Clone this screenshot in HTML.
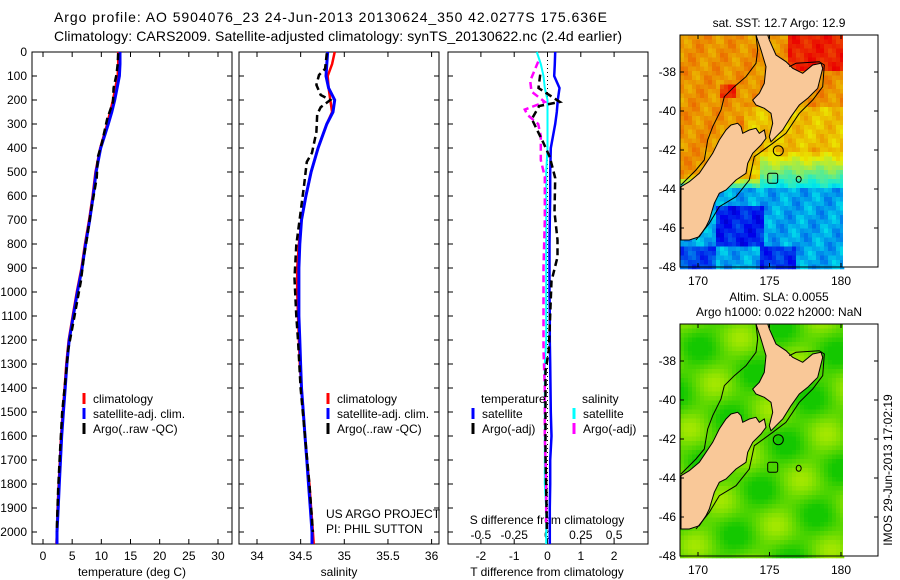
<!DOCTYPE html>
<html><head><meta charset="utf-8"><style>
body{margin:0;background:#fff;}
svg{display:block;font-family:"Liberation Sans",sans-serif;}
</style></head><body>
<svg id="fig" width="900" height="580" viewBox="0 0 900 580">
<text x="54" y="22" font-size="14" textLength="553">Argo profile: AO 5904076_23 24-Jun-2013 20130624_350 42.0277S 175.636E</text>
<text x="54" y="41" font-size="14" textLength="568">Climatology: CARS2009. Satellite-adjusted climatology: synTS_20130622.nc (2.4d earlier)</text>
<g id="panels"></g>
<g id="maps"></g>
<text transform="translate(892,470) rotate(-90)" font-size="12" text-anchor="middle">IMOS 29-Jun-2013 17:02:19</text>
</svg>
<script>
// ---------- data ----------
const depths      = [0,50,100,150,200,250,300,400,500,600,700,800,900,1000,1100,1200,1300,1400,1500,1600,1700,1800,1900,2000,2050];
const tempClim    = [12.9,12.9,12.8,12.4,12.0,11.5,11.0,9.8,9.0,8.5,7.9,7.2,6.6,5.8,5.1,4.4,4.0,3.7,3.4,3.1,2.9,2.7,2.5,2.4,2.3];
const tempSat     = [13.2,13.2,13.1,12.7,12.3,11.8,11.2,9.9,9.1,8.6,8.0,7.3,6.7,5.9,5.2,4.5,4.1,3.8,3.5,3.2,3.0,2.8,2.6,2.4,2.4];
const argoDepths  = [5,50,94,150,208,279,379,438,525,667,783,854,954,1100,1242,1329,1500,1675,1817,1962,2000];
const tempArgo    = [12.9,12.8,12.6,12.1,12.0,11.0,10.1,9.4,9.2,8.2,7.5,7.0,6.5,5.4,4.3,4.0,3.3,2.9,2.6,2.4,2.4];
const salClim     = [34.89,34.86,34.81,34.82,34.84,34.86,34.80,34.70,34.62,34.56,34.51,34.48,34.46,34.46,34.47,34.48,34.49,34.51,34.53,34.55,34.57,34.60,34.62,34.64,34.65];
const salSat      = [34.81,34.80,34.79,34.82,34.89,34.87,34.80,34.70,34.62,34.56,34.51,34.49,34.48,34.48,34.48,34.49,34.50,34.51,34.53,34.55,34.57,34.59,34.61,34.63,34.63];
const salArgoDep  = [5,70,96,137,179,200,230,260,333,420,458,554,667,804,942,1100,1200,1400,1600,1800,2000];
const salArgo     = [34.80,34.78,34.71,34.68,34.73,34.84,34.73,34.69,34.68,34.63,34.57,34.54,34.50,34.45,34.43,34.45,34.47,34.50,34.55,34.60,34.64];
const dTsat       = [0.23,0.22,0.20,0.36,0.31,0.28,0.23,0.10,0.08,0.08,0.07,0.06,0.06,0.06,0.07,0.07,0.08,0.09,0.10,0.12,0.08,0.08,0.07,0.07,0.07];
const dTargoDep   = [94,150,208,225,279,379,438,525,667,783,854,954,1242,1329,1500,1675,1817,1962,2000];
const dTargo      = [-0.22,-0.27,0.37,-0.25,-0.47,-0.12,0.07,0.23,0.21,0.30,0.30,0.12,0.04,-0.06,-0.06,-0.06,-0.04,-0.02,-0.02];
const dSsat       = [-0.08,-0.05,-0.03,-0.02,0.0,0.0,0.0,0.0,-0.01,-0.01,-0.01,-0.01,-0.01,-0.01,-0.01,-0.01,-0.02,-0.02,-0.02,-0.02,-0.02,-0.02,-0.01,-0.01,-0.01];
const dSargoDep   = [40,80,120,165,208,240,262,300,350,400,450,520,700,900,1242,1400,1600,1800,1962];
const dSargo      = [-0.07,-0.10,-0.13,-0.12,-0.02,-0.17,-0.15,-0.07,-0.05,-0.05,-0.05,-0.02,-0.02,-0.03,-0.03,-0.02,-0.02,-0.01,-0.01];
const depthTicks  = [0,100,200,300,400,500,600,700,800,900,1000,1100,1200,1300,1400,1500,1600,1700,1800,1900,2000];
const tempTicks   = [0,5,10,15,20,25,30];
const salTicks    = [34,34.5,35,35.5,36];
const salTickLbl  = ["34","34.5","35","35.5","36"];
const dTTicks     = [-2,-1,0,1,2];
const dSTickLbl   = ["-0.5","-0.25","0","0.25","0.5"];
const latTicks    = [-38,-40,-42,-44,-46,-48];
const lonTicks    = [170,175,180];

const NS='http://www.w3.org/2000/svg';
function mk(tag,attrs,parent){const e=document.createElementNS(NS,tag);for(const k in attrs)e.setAttribute(k,attrs[k]);parent.appendChild(e);return e;}
const P=document.getElementById('panels');
const top0=52, bot=544;
const yD=d=>top0+d*0.24;
const panels=[
 {x0:32,x1:232,name:'temperature-panel',xs:v=>43+v*5.833},
 {x0:239,x1:439,name:'salinity-panel',xs:v=>257+(v-34)*87.3},
 {x0:448,x1:648,name:'difference-panel',xs:v=>547.5+v*33.3}
];
function line(g,xs,ys,xf,color,w,dash,name){
  const pts=xs.map((v,i)=>xf(v).toFixed(1)+','+yD(ys[i]).toFixed(1)).join(' ');
  const pl=mk('polyline',{points:pts,fill:'none',stroke:color,'stroke-width':w},g);
  if(dash)pl.setAttribute('stroke-dasharray',dash);
  
  
}
panels.forEach((p,pi)=>{
  const g=mk('g',{},P);
  
  
  const r=mk('rect',{x:p.x0,y:top0,width:p.x1-p.x0,height:bot-top0,fill:'#fff',stroke:'#000','stroke-width':1},g);
  
  
  depthTicks.forEach(d=>{
    mk('line',{x1:p.x0,x2:p.x0+5,y1:yD(d),y2:yD(d),stroke:'#000'},g);
    mk('line',{x1:p.x1-5,x2:p.x1,y1:yD(d),y2:yD(d),stroke:'#000'},g);
    if(pi===0){const t=mk('text',{x:27,y:yD(d)+4,'font-size':12,'text-anchor':'end'},g);t.textContent=d;
      
      }
  });
  let tv = pi===0?tempTicks:pi===1?salTicks:dTTicks;
  tv.forEach((v,i)=>{
    const x=p.xs(v);
    mk('line',{x1:x,x2:x,y1:top0,y2:top0+5,stroke:'#000'},g);
    mk('line',{x1:x,x2:x,y1:bot-5,y2:bot,stroke:'#000'},g);
    const t=mk('text',{x:x,y:560,'font-size':12,'text-anchor':'middle'},g);
    t.textContent= pi===1?salTickLbl[i]:(v<0?'-'+Math.abs(v):v);
    
    
  });
});
[[132,'temperature (deg C)'],[339,'salinity'],[547,'T difference from climatology']].forEach(a=>{
  const t=mk('text',{x:a[0],y:576,'font-size':12,'text-anchor':'middle'},P);t.textContent=a[1];
  
  
});
const st=mk('text',{x:547,y:524,'font-size':12,'text-anchor':'middle'},P);st.textContent='S difference from climatology';


dSTickLbl.forEach((l,i)=>{const t=mk('text',{x:panels[2].xs(dTTicks[i]),y:539,'font-size':12,'text-anchor':'middle'},P);t.textContent=l;
  
  });
const zl=mk('line',{x1:547.5,x2:547.5,y1:top0,y2:bot,stroke:'#000','stroke-dasharray':'1 3'},P);


const D='7 4';
line(P,tempClim,depths,panels[0].xs,'#f00',2.5,null,'temp-climatology-line');
line(P,tempSat,depths,panels[0].xs,'#00f',3,null,'temp-satellite-line');
line(P,tempArgo,argoDepths,panels[0].xs,'#000',2.5,D,'temp-argo-line');
line(P,salClim,depths,panels[1].xs,'#f00',2.5,null,'sal-climatology-line');
line(P,salSat,depths,panels[1].xs,'#00f',3,null,'sal-satellite-line');
line(P,salArgo,salArgoDep,panels[1].xs,'#000',2.5,D,'sal-argo-line');
const sx=v=>547.5+v*133.3;
line(P,dTsat,depths,panels[2].xs,'#00f',2.5,null,'dT-satellite-line');
line(P,dSsat,depths,sx,'#0ff',2,null,'dS-satellite-line');
line(P,dSargo,dSargoDep,sx,'#f0f',2.5,D,'dS-argo-line');
line(P,dTargo,dTargoDep,panels[2].xs,'#000',2.5,D,'dT-argo-line');
function leg(x,y,color,label,name){
  const g=mk('g',{},P);
  mk('line',{x1:x,x2:x,y1:y-10,y2:y+1,stroke:color,'stroke-width':3},g);
  const t=mk('text',{x:x+9,y:y,'font-size':12},g);t.textContent=label;
}
[[0,'#f00','climatology'],[1,'#00f','satellite-adj. clim.'],[2,'#000','Argo(..raw -QC)']].forEach(a=>{
  leg(84,403+a[0]*15,a[1],a[2],'legend-entry');leg(328,403+a[0]*15,a[1],a[2],'legend-entry');
});
let t=mk('text',{x:481,y:403,'font-size':12},P);t.textContent='temperature';
t=mk('text',{x:582,y:403,'font-size':12},P);t.textContent='salinity';
leg(473,418,'#00f','satellite','legend-entry');leg(473,433,'#000','Argo(-adj)','legend-entry');
leg(574,418,'#0ff','satellite','legend-entry');leg(574,433,'#f0f','Argo(-adj)','legend-entry');
t=mk('text',{x:326,y:518,'font-size':12},P);t.textContent='US ARGO PROJECT';
t=mk('text',{x:326,y:533,'font-size':12},P);t.textContent='PI: PHIL SUTTON';

// ---------- maps ----------
const M=document.getElementById('maps');
const northIsland=[[240,15],[275,15],[280,30],[300,75],[330,95],[350,115],[380,130],[410,105],[435,100],[440,115],[425,175],[405,195],[395,205],[370,225],[345,260],[320,300],[300,320],[285,335],[280,320],[290,280],[285,250],[265,235],[240,225],[230,210],[250,190],[265,160],[270,110],[255,60]];
const southIsland=[[185,280],[195,290],[200,310],[220,300],[240,295],[250,310],[265,300],[270,325],[255,345],[230,370],[215,400],[210,430],[180,450],[160,470],[150,480],[130,490],[115,520],[100,570],[90,590],[70,620],[40,630],[15,630],[15,470],[40,455],[70,430],[90,400],[110,370],[130,330],[150,300],[165,285]];
const contourW=[[240,15],[245,60],[240,100],[210,140],[175,170],[145,200],[135,240],[110,290],[95,330],[85,390],[60,420],[15,465]];
const contourE=[[340,110],[360,100],[430,95],[445,105],[440,170],[410,210],[370,250],[330,310],[290,340],[235,380],[220,450],[180,500],[130,530],[100,580],[60,630]];
function jet(v){v=Math.max(0,Math.min(1,v));const r=Math.min(1,Math.max(0,1.5-Math.abs(4*v-3))),g=Math.min(1,Math.max(0,1.5-Math.abs(4*v-2))),b=Math.min(1,Math.max(0,1.5-Math.abs(4*v-1)));return `rgb(${r*235|0},${g*235|0},${b*235|0})`;}
function drawMap(top,bottom,kind,title){
  const x0=680,x1=878;
  const ky=(bottom-top)/232;
  const px=p=>(676+p[0]/3).toFixed(1)+','+(top+(p[1]-15)/3*ky).toFixed(1);
  const yL=lat=>top+(37+(-38-lat)*19.5)*ky;
  const xL=lon=>698+(lon-170)*14.3;
  const g=mk('g',{},M);
  
  
  const cw=4, ch=4.5*ky;
  for(let x=x0;x<843;x+=cw){
    for(let y=top;y<bottom;y+=ch){
      const zx=(x-676)*3, zy=(y-top)/ky*3+15;
      const s=Math.sin(x*0.21+y*0.13)*0.02+Math.cos(x*0.37-y*0.29)*0.02;
      let c;
      if(kind==='sst'){
        let v;
        const ysep=340+(zx<250?90:0);
        if(zy<ysep) v=0.72+s+(zy<110&&zx>330?0.12:0)+(zy>150&&zy<200&&zx>130&&zx<170?0.1:0)-(zy>230&&zx>200?0.05:0);
        else if(zy<470) v=0.72-(zy-ysep)/(470-ysep)*0.36+s;
        else v=0.3+s*1.5-((zy>520&&zy<640&&zx>110&&zx<260)?0.14:0)-((zy>640&&zx>240&&zx<360)?0.12:0)-((zy>640&&zx<120)?0.1:0);
        c=jet(v);
      } else {
        let v=0.35+Math.sin(x*0.09+y*0.05)*0.25+Math.cos(x*0.05-y*0.11)*0.2;v=Math.max(0,Math.min(1,v));
        c=`rgb(${(20+v*180)|0},${(200+v*40)|0},0)`;
      }
      mk('rect',{x:x,y:y.toFixed(1),width:cw+0.3,height:(ch+0.3).toFixed(1),fill:c},g);
    }
  }
  const poly=pts=>pts.map(px).join(' ');
  mk('polygon',{points:poly(northIsland),fill:'#f9c898',stroke:'#000','stroke-width':1},g);
  mk('polygon',{points:poly(southIsland),fill:'#f9c898',stroke:'#000','stroke-width':1},g);
  mk('polyline',{points:poly(contourW),fill:'none',stroke:'#000'},g);
  mk('polyline',{points:poly(contourE),fill:'none',stroke:'#000'},g);
  const cc=px([307,362]).split(',');
  mk('circle',{cx:cc[0],cy:cc[1],r:5,fill:'none',stroke:'#000'},g);
  const sq=px([290,445]).split(',');
  mk('rect',{x:sq[0]-5,y:sq[1]-5,width:10,height:10,rx:2,fill:'none',stroke:'#000'},g);
  const el=px([368,448]).split(',');
  mk('ellipse',{cx:el[0],cy:el[1],rx:2.5,ry:3,fill:'none',stroke:'#000'},g);
  mk('rect',{x:843,y:top,width:x1-843,height:bottom-top,fill:'#fff'},g);
  mk('rect',{x:x0,y:top,width:x1-x0,height:bottom-top,fill:'none',stroke:'#000'},g);
  latTicks.forEach(l=>{const y=yL(l);mk('line',{x1:x0,x2:x0+4,y1:y,y2:y,stroke:'#000'},g);mk('line',{x1:x1-4,x2:x1,y1:y,y2:y,stroke:'#000'},g);
    const t=mk('text',{x:676,y:y+4,'font-size':12,'text-anchor':'end'},g);t.textContent=l;});
  lonTicks.forEach(l=>{const x=xL(l);mk('line',{x1:x,x2:x,y1:top,y2:top+4,stroke:'#000'},g);mk('line',{x1:x,x2:x,y1:bottom-4,y2:bottom,stroke:'#000'},g);
    const t=mk('text',{x:x,y:bottom+18,'font-size':12,'text-anchor':'middle'},g);t.textContent=l;});
  title.forEach((s,i)=>{const t=mk('text',{x:779,y:top-8-(title.length-1-i)*15,'font-size':12,'text-anchor':'middle'},g);t.textContent=s;});
}
drawMap(35,267,'sst',['sat. SST: 12.7 Argo: 12.9']);
drawMap(324,556,'sla',['Altim. SLA: 0.0055','Argo h1000: 0.022 h2000: NaN']);
</script>
</body></html>
